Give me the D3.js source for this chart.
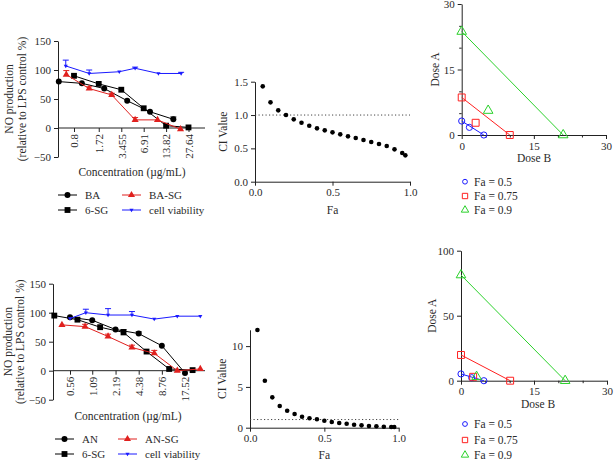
<!DOCTYPE html>
<html>
<head>
<meta charset="utf-8">
<script src="https://cdn.jsdelivr.net/npm/d3@7"></script>
<style>
  body { margin: 0; background: #fff; }
  svg, svg text { font-family: "Liberation Serif", "Times New Roman", serif !important; fill: #2a2a2a; }
  .axis path, .axis line { stroke: #222; }
</style>
</head>
<body>
<svg id="fig" width="614" height="462"></svg>
<script>
// ---- Dose response, top (BA) ----
const ticksA = [0.8, 1.72, 3.455, 6.91, 13.82, 27.64];
const baConc = [0.5, 1.02, 2.04, 4.15, 8.4, 17.3];
const baVals = [80, 77, 68, 47, 28, 15];
const baErr = [0, 0, 0, 0, 0, 4];
const sgConcA = [0.8, 1.72, 3.455, 6.91, 13.82, 27.64];
const sgValsA = [90, 76, 66, 34, 4, 1];
const sgErrA = [0, 0, 0, 0, 0, 0];
const basgConc = [0.63, 1.28, 2.57, 5.3, 10.6, 21.6];
const basgVals = [92, 68, 57, 14, 14, -2];
const basgErr = [7, 3, 3, 4, 0, 0];
const viabConcA = [0.62, 1.28, 3.25, 5.3, 10.9, 22];
const viabValsA = [107, 94, 97, 103, 94, 94];
const viabErrA = [10, 6, 0, 2, 0, 2];

// ---- Dose response, bottom (AN) ----
const ticksB = [0.56, 1.09, 2.19, 4.38, 8.76, 17.52];
const anConc = [0.56, 1.09, 2.19, 4.38, 8.76, 17.52];
const anVals = [92, 87, 71, 64, 43, -4];
const anErr = [0, 0, 0, 3, 0, 0];
const sgConcB = [0.35, 0.7, 1.38, 2.78, 5.54, 10.9, 22];
const sgValsB = [95, 88, 75, 66, 33, 3, 1];
const sgErrB = [0, 0, 0, 5, 0, 0, 0];
const ansgConc = [0.44, 0.88, 1.75, 3.58, 6.98, 13.9, 27.7];
const ansgVals = [79, 76, 59, 40, 30, 0, 3];
const ansgErr = [0, 4, 4, 4, 5, 0, 0];
const viabConcB = [0.56, 0.9, 1.75, 3.58, 6.98, 13.9, 27.7];
const viabValsB = [90, 100, 96, 96, 89, 94, 94];
const viabErrB = [0, 6, 11, 6, 0, 0, 0];

// ---- CI plots ----
const faVals = [0.05, 0.1, 0.15, 0.2, 0.25, 0.3, 0.35, 0.4, 0.45, 0.5,
                0.55, 0.6, 0.65, 0.7, 0.75, 0.8, 0.85, 0.9, 0.95, 0.97];
const ciA = [1.43, 1.19, 1.07, 1.0, 0.935, 0.885, 0.84, 0.80, 0.77, 0.74,
             0.71, 0.68, 0.655, 0.625, 0.595, 0.565, 0.535, 0.485, 0.43, 0.395];
const ciB = [11.97, 5.76, 3.72, 2.66, 2.08, 1.68, 1.35, 1.15, 1.03, 0.86,
             0.70, 0.58, 0.49, 0.37, 0.29, 0.21, 0.17, 0.12, 0.09, 0.08];

// ---- Isobolograms ----
const isoLabels = ['Fa = 0.5', 'Fa = 0.75', 'Fa = 0.9'];
const isoAloneA1 = [3.2, 8.6, 23.7];
const isoAloneB1 = [4.6, 10.0, 21.1];
const isoComboA1 = [1.75, 2.8, 5.6];
const isoComboB1 = [1.6, 2.9, 5.5];
const isoAloneA2 = [5.2, 19.8, 81.3];
const isoAloneB2 = [4.7, 10.1, 21.4];
const isoComboA2 = [2.3, 3.0, 3.1];
const isoComboB2 = [2.2, 2.5, 3.2];

const svg = d3.select('#fig');
const red = '#e0201e', blue = '#1a1aff';
const isoColors = ['#1a1aff', '#ff2020', '#2bd12b'];
const tickFont = '11px', titleFont = '11.5px';
const downTri = { draw: (ctx, size) => {
  // flipped triangle for the viability series
  const h = Math.sqrt(size / (3 * Math.sqrt(3) / 4)) / 2;
  ctx.moveTo(0, h * 1.1); ctx.lineTo(-h, -h * 0.6); ctx.lineTo(h, -h * 0.6); ctx.closePath();
}};

function rotLabel(x, y, lines, size) {
  lines.forEach((t, i) => {
    svg.append('text')
      .attr('transform', `translate(${x[i]},${y}) rotate(-90)`)
      .attr('text-anchor', 'middle')
      .style('font-size', size)
      .text(t);
  });
}

function fixAxisText(sel) {
  sel.attr('font-family', null).attr('font-size', null);
  sel.selectAll('text').style('font-size', tickFont);
}

function dosePanel(cfg) {
  const x = d3.scaleLog().domain([cfg.ticks[0], cfg.ticks[cfg.ticks.length - 1]]).range(cfg.tickPx);
  const y = d3.scaleLinear().domain([-50, 150]).range([cfg.y0 + 29, cfg.y0 - 87]);

  const ya = svg.append('g').attr('class', 'axis')
    .attr('transform', `translate(${cfg.left},0)`)
    .call(d3.axisLeft(y).tickValues([-50, 0, 50, 100, 150]).tickSize(4).tickSizeOuter(0));
  fixAxisText(ya);

  const xa = svg.append('g').attr('class', 'axis')
    .attr('transform', `translate(0,${y(0)})`)
    .call(d3.axisBottom(x).tickValues(cfg.ticks).tickFormat(d => d).tickSize(4));
  xa.select('.domain').remove();
  xa.append('line').attr('x1', cfg.left).attr('x2', cfg.right).attr('stroke', '#222');
  fixAxisText(xa);
  xa.selectAll('text')
    .attr('transform', 'rotate(-90)')
    .attr('text-anchor', 'end')
    .attr('x', -6).attr('y', 0).attr('dy', '0.35em');

  const line = d3.line().x(d => x(d.c)).y(d => y(d.v));
  cfg.series.forEach(s => {
    const pts = s.conc.map((c, i) => ({ c: c, v: s.vals[i], e: s.err[i] }));
    const g = svg.append('g');
    g.append('path').datum(pts).attr('d', line)
      .attr('fill', 'none').attr('stroke', s.color).attr('stroke-width', 1);
    const eb = g.selectAll('.eb').data(pts.filter(d => d.e > 0)).enter().append('g');
    eb.append('line').attr('x1', d => x(d.c)).attr('x2', d => x(d.c))
      .attr('y1', d => y(d.v)).attr('y2', d => y(d.v + d.e)).attr('stroke', s.color);
    eb.append('line').attr('x1', d => x(d.c) - 3).attr('x2', d => x(d.c) + 3)
      .attr('y1', d => y(d.v + d.e)).attr('y2', d => y(d.v + d.e)).attr('stroke', s.color);
    g.selectAll('.pt').data(pts).enter().append('path')
      .attr('d', d3.symbol().type(s.sym).size(s.size))
      .attr('transform', d => `translate(${x(d.c)},${y(d.v)})`)
      .attr('fill', s.color);
  });

  // legend
  cfg.legend.forEach((s, i) => {
    const lx = cfg.legX[Math.floor(i / 2)], ly = cfg.legY[i % 2];
    svg.append('line').attr('x1', lx).attr('x2', lx + 19).attr('y1', ly).attr('y2', ly)
      .attr('stroke', s.color);
    svg.append('path').attr('d', d3.symbol().type(s.sym).size(s.size))
      .attr('transform', `translate(${lx + 9.5},${ly})`).attr('fill', s.color);
    svg.append('text').attr('x', lx + 27).attr('y', ly).attr('dy', '0.35em')
      .style('font-size', tickFont).text(s.name);
  });

  svg.append('text').attr('x', cfg.titleX).attr('y', cfg.titleY)
    .attr('text-anchor', 'middle').style('font-size', titleFont)
    .text('Concentration (\u00b5g/mL)');
  rotLabel(cfg.ylabX, (y(-50) + y(150)) / 2,
    ['NO production', '(relative to LPS control %)'], titleFont);
}

function ciPanel(cfg) {
  const x = d3.scaleLinear().domain([0, 1]).range(cfg.xr);
  const y = d3.scaleLinear().domain(cfg.yd).range(cfg.yr);
  const ya = svg.append('g').attr('class', 'axis').attr('transform', `translate(${cfg.xr[0]},0)`)
    .call(d3.axisLeft(y).tickValues(cfg.yTicks).tickFormat(cfg.yFmt).tickSize(4).tickSizeOuter(0));
  const xa = svg.append('g').attr('class', 'axis').attr('transform', `translate(0,${cfg.yr[0]})`)
    .call(d3.axisBottom(x).tickValues([0, 0.5, 1]).tickFormat(d3.format('.1f')).tickSize(4).tickSizeOuter(0));
  fixAxisText(ya);
  fixAxisText(xa);

  svg.append('line').attr('x1', x(0)).attr('x2', x(1)).attr('y1', y(1)).attr('y2', y(1))
    .attr('stroke', '#444').attr('stroke-dasharray', '1.2,2.3');
  svg.append('g').selectAll('circle').data(faVals.map((f, i) => [f, cfg.ci[i]])).enter()
    .append('circle').attr('cx', d => x(d[0])).attr('cy', d => y(d[1])).attr('r', 2.3)
    .attr('fill', '#000');

  svg.append('text').attr('x', (cfg.xr[0] + cfg.xr[1]) / 2).attr('y', cfg.faY)
    .attr('text-anchor', 'middle').style('font-size', titleFont).text('Fa');
  rotLabel([cfg.ciX], (cfg.yr[0] + cfg.yr[1]) / 2, ['CI Value'], titleFont);
}

function isoPanel(cfg) {
  const x = d3.scaleLinear().domain([0, 30]).range(cfg.xr);
  const y = d3.scaleLinear().domain([0, cfg.yMax]).range(cfg.yr);
  fixAxisText(svg.append('g').attr('class', 'axis').attr('transform', `translate(${cfg.xr[0]},0)`)
    .call(d3.axisLeft(y).tickValues(cfg.yTicks).tickSize(4).tickSizeOuter(0)));
  if (cfg.yMinor.length) {
    svg.append('g').attr('class', 'axis').attr('transform', `translate(${cfg.xr[0]},0)`)
      .call(d3.axisLeft(y).tickValues(cfg.yMinor).tickFormat('').tickSize(2.5).tickSizeOuter(0))
      .select('.domain').remove();
  }
  fixAxisText(svg.append('g').attr('class', 'axis').attr('transform', `translate(0,${cfg.yr[0]})`)
    .call(d3.axisBottom(x).tickValues([0, 15, 30]).tickSize(4).tickSizeOuter(0)));
  svg.append('g').attr('class', 'axis').attr('transform', `translate(0,${cfg.yr[0]})`)
    .call(d3.axisBottom(x).tickValues([5, 10, 20, 25]).tickFormat('').tickSize(2.5).tickSizeOuter(0))
    .select('.domain').remove();

  const syms = [d3.symbolCircle, d3.symbolSquare, d3.symbolTriangle];
  const sizes = [30, 48, 40];
  isoLabels.forEach((lab, i) => {
    const c = isoColors[i];
    svg.append('line').attr('x1', x(0)).attr('y1', y(cfg.aloneA[i]))
      .attr('x2', x(cfg.aloneB[i])).attr('y2', y(0)).attr('stroke', c).attr('stroke-width', 1);
    const pts = [[0, cfg.aloneA[i]], [cfg.comboB[i], cfg.comboA[i]], [cfg.aloneB[i], 0]];
    svg.append('g').selectAll('path').data(pts).enter().append('path')
      .attr('d', d3.symbol().type(syms[i]).size(sizes[i]))
      .attr('transform', d => `translate(${x(d[0])},${y(d[1])})`)
      .attr('fill', 'none').attr('stroke', c).attr('stroke-width', 1);
    svg.append('path').attr('d', d3.symbol().type(syms[i]).size(sizes[i] * 0.6))
      .attr('transform', `translate(${cfg.legX},${cfg.legY[i]})`)
      .attr('fill', 'none').attr('stroke', c);
    svg.append('text').attr('x', cfg.legX + 9).attr('y', cfg.legY[i]).attr('dy', '0.35em')
      .style('font-size', titleFont).text(lab);
  });

  svg.append('text').attr('x', cfg.bX).attr('y', cfg.bY)
    .attr('text-anchor', 'middle').style('font-size', titleFont).text('Dose B');
  rotLabel([cfg.aX], (cfg.yr[0] + cfg.yr[1]) / 2, ['Dose A'], titleFont);
}

const symCirc = d3.symbolCircle, symSq = d3.symbolSquare, symTri = d3.symbolTriangle;

const seriesA = [
  { name: 'BA', conc: baConc, vals: baVals, err: baErr, color: '#000', sym: symCirc, size: 28 },
  { name: '6-SG', conc: sgConcA, vals: sgValsA, err: sgErrA, color: '#000', sym: symSq, size: 34 },
  { name: 'BA-SG', conc: basgConc, vals: basgVals, err: basgErr, color: red, sym: symTri, size: 22 },
  { name: 'cell viability', conc: viabConcA, vals: viabValsA, err: viabErrA, color: blue, sym: downTri, size: 22 }
];
dosePanel({
  ticks: ticksA, tickPx: [74, 188.5], left: 58, right: 205, y0: 128,
  series: seriesA, legend: seriesA, legX: [58, 122], legY: [195, 210],
  titleX: 132, titleY: 176, ylabX: [13, 25.5]
});

const seriesB = [
  { name: 'AN', conc: anConc, vals: anVals, err: anErr, color: '#000', sym: symCirc, size: 28 },
  { name: '6-SG', conc: sgConcB, vals: sgValsB, err: sgErrB, color: '#000', sym: symSq, size: 34 },
  { name: 'AN-SG', conc: ansgConc, vals: ansgVals, err: ansgErr, color: red, sym: symTri, size: 22 },
  { name: 'cell viability', conc: viabConcB, vals: viabValsB, err: viabErrB, color: blue, sym: downTri, size: 22 }
];
dosePanel({
  ticks: ticksB, tickPx: [70, 185], left: 53, right: 205, y0: 370.7,
  series: seriesB, legend: seriesB, legX: [55, 118], legY: [439, 454],
  titleX: 128, titleY: 420, ylabX: [12, 24]
});

ciPanel({ xr: [255, 410], yd: [0, 1.5], yr: [181.7, 81.7], yTicks: [0, 0.5, 1, 1.5],
  yFmt: d3.format('.1f'), ci: ciA, faY: 214, ciX: 227 });
ciPanel({ xr: [250, 398.7], yd: [0, 12], yr: [427.7, 329.8], yTicks: [0, 5, 10],
  yFmt: d3.format('d'), ci: ciB, faY: 459, ciX: 226 });

isoPanel({ xr: [461.7, 606], yMax: 30, yr: [135, 4], yTicks: [0, 15, 30], yMinor: [5, 10, 20, 25],
  aloneA: isoAloneA1, aloneB: isoAloneB1, comboA: isoComboA1, comboB: isoComboB1,
  legX: 465, legY: [181.7, 196, 210], bX: 534, bY: 162, aX: 439 });
isoPanel({ xr: [461, 607], yMax: 100, yr: [380.7, 250.7], yTicks: [0, 50, 100], yMinor: [],
  aloneA: isoAloneA2, aloneB: isoAloneB2, comboA: isoComboA2, comboB: isoComboB2,
  legX: 465, legY: [424, 440, 455], bX: 538, bY: 408, aX: 436 });
</script>
</body>
</html>
